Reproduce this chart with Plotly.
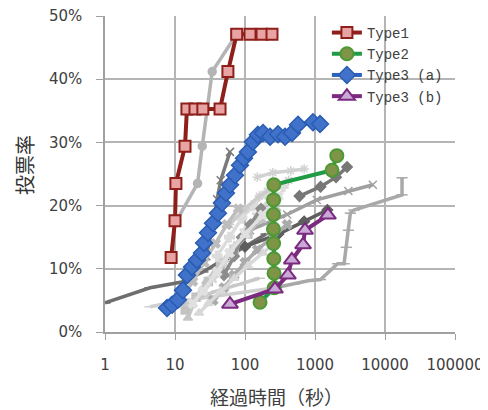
import plotly.graph_objects as go

# ---- highlighted series (x = elapsed seconds, y = turnout %) ----
type1_x = [8.8, 10.0, 10.3, 13.9, 14.8, 19.3, 25.0, 44.0, 57.0, 76.0, 118.0, 175.0, 243.0]
type1_y = [11.8, 17.6, 23.5, 29.4, 35.3, 35.3, 35.3, 35.3, 41.2, 47.1, 47.1, 47.1, 47.1]

type2_x = [164, 262, 260, 258, 256, 255, 255, 256, 258, 1750, 2050]
type2_y = [4.7, 7.0, 9.3, 11.6, 14.0, 16.3, 18.6, 20.9, 23.3, 25.6, 27.9]

type3a_x = [7.7, 9.1, 11.0, 13.0, 14.8, 17.5, 20.6, 24.3, 26.0, 29.6, 34.9, 41.1, 46.9,
            53.5, 61.1, 72.0, 84.8, 96.8, 110, 130, 153, 181, 228, 296, 373, 469, 572,
            936, 1179]
type3a_y = [3.8, 4.3, 5.1, 6.6, 9.0, 10.3, 11.4, 12.5, 14.1, 15.7, 17.2, 18.8, 20.4,
            22.0, 23.3, 24.8, 26.4, 27.5, 28.5, 30.1, 31.2, 31.5, 30.9, 31.3, 30.9, 31.5,
            32.8, 33.2, 32.9]

type3b_x = [61, 268, 410, 467, 675, 720, 1530]
type3b_y = [4.4, 6.8, 9.0, 11.4, 13.8, 16.1, 18.5]

# ---- background (grey) series ----
bg_series = [
    ([10.5, 21, 24.5, 34, 76], [17.6, 23.5, 29.4, 41.2, 47.1]),
    ([1, 4.4, 12.6, 25, 50, 100, 200], [4.6, 7.0, 7.9, 9.5, 11.5, 13.5, 15.5]),
    ([28, 35, 40, 45, 61], [12, 17, 21, 24, 28.5]),
    ([15.3, 20, 28, 45, 80, 150, 280], [2.2, 5.5, 8, 11, 14, 17, 19.5]),
    ([4.4, 10, 30, 100, 270], [4.0, 4.8, 5.5, 6.3, 7.0]),
    ([270, 500, 800, 1200, 2100, 2600, 2800, 3000, 3200, 3600, 17500, 17500],
     [7.0, 7.6, 8.1, 8.3, 10.8, 10.8, 13.4, 16.1, 18.8, 19.3, 21.7, 24.4]),
    ([118, 400, 1060, 3000, 6700], [16.1, 18.6, 20.9, 22.3, 23.3]),
    ([100, 300, 700, 1500], [13.5, 15.5, 17.5, 19.3]),
    ([600, 1200, 2000, 2870], [21.5, 23, 24.5, 26.1]),
    ([150, 250, 450, 700], [24.5, 25.2, 25.5, 25.8]),
    ([14, 20, 30, 45, 70, 110, 170, 250], [3.5, 5.5, 8, 10.5, 13, 15.5, 18, 20.5]),
    ([25, 35, 50, 70, 100, 150, 220], [6, 8.5, 11, 13.5, 16, 18.5, 21]),
    ([35, 50, 70, 100, 150, 250, 400], [5, 7, 9, 11, 13, 15, 17]),
    ([40, 60, 90, 130, 200, 350], [12, 15, 18, 20, 22, 23]),
    ([50, 70, 90, 120, 170], [9, 12, 15, 17, 19.5]),
    ([9, 14, 22, 40, 80, 160], [3.8, 4.5, 5.5, 6.5, 7.5, 8.5]),
    ([18, 25, 40, 60, 100, 180, 300], [4.5, 6.5, 9.5, 12.5, 15.5, 18.5, 21.5]),
    ([60, 100, 160, 250, 420], [17, 19.5, 21.5, 22.8, 24]),
    ([22, 30, 45, 70, 110, 180, 260], [3.0, 4.5, 6.5, 8.5, 10.5, 12.5, 14.0]),
    ([12, 18, 26, 38, 55, 80], [5.0, 8.0, 11.0, 14.0, 17.0, 19.5]),
]
bg_colors = ["#b4b4b4", "#6e6e6e", "#7a7a7a", "#c6c6c6", "#cfcfcf", "#a9a9a9",
             "#a0a0a0", "#5e5e5e", "#777777", "#d2d2d2", "#c2c2c2", "#d6d6d6",
             "#ababab", "#dcdcdc", "#8c8c8c", "#c8c8c8", "#e0e0e0", "#cccccc",
             "#d8d8d8", "#bdbdbd"]
bg_symbols = ["circle", "line-ew", "x-thin", "triangle-up", "line-ew", "line-ew",
              "x-thin", "diamond", "diamond", "asterisk", "square", "star",
              "x", "cross", "diamond", "line-ew", "x", "asterisk", "triangle-up", "x"]

x_tickvals = [1, 10, 100, 1000, 10000, 100000]
x_ticktext = ["1", "10", "100", "1000", "10000", "100000"]
y_tickvals = [0, 10, 20, 30, 40, 50]
y_ticktext = ["0%", "10%", "20%", "30%", "40%", "50%"]

fig = go.Figure()

for (xs, ys), col, sym in zip(bg_series, bg_colors, bg_symbols):
    fig.add_trace(go.Scatter(
        x=xs, y=ys, mode="lines+markers", showlegend=False, hoverinfo="skip",
        line=dict(color=col, width=3.5),
        marker=dict(symbol=sym, size=8, color=col, line=dict(color=col, width=1.5)),
    ))

fig.add_trace(go.Scatter(
    x=type1_x, y=type1_y, name="Type1", mode="lines+markers",
    line=dict(color="#8e1f1b", width=4),
    marker=dict(symbol="square", size=11, color="#e8a4a2", line=dict(color="#8e1f1b", width=2)),
))
fig.add_trace(go.Scatter(
    x=type2_x, y=type2_y, name="Type2", mode="lines+markers",
    line=dict(color="#1f9a45", width=4),
    marker=dict(symbol="circle", size=13, color="#7f9446", line=dict(color="#4c9a35", width=2)),
))
fig.add_trace(go.Scatter(
    x=type3a_x, y=type3a_y, name="Type3 (a)", mode="lines+markers",
    line=dict(color="#2c62bf", width=4),
    marker=dict(symbol="diamond", size=13, color="#3f72c8", line=dict(color="#2a5cb3", width=1.5)),
))
fig.add_trace(go.Scatter(
    x=type3b_x, y=type3b_y, name="Type3 (b)", mode="lines+markers",
    line=dict(color="#7b2a80", width=4),
    marker=dict(symbol="triangle-up", size=14, color="#c9a9d6", line=dict(color="#7b2a80", width=2)),
))

fig.update_layout(
    width=480, height=402,
    margin=dict(l=97, r=33, t=8, b=78),
    paper_bgcolor="white", plot_bgcolor="white",
    font=dict(family="DejaVu Sans", size=15, color="#404040"),
    legend=dict(x=0.634, y=0.997, xanchor="left", yanchor="top",
                bgcolor="rgba(0,0,0,0)", font=dict(family="Liberation Mono", size=14, color="#404040"),
                tracegroupgap=0, itemwidth=30),
    showlegend=True,
    annotations=[
        dict(text="経過時間（秒）", xref="paper", yref="paper", x=0.49, y=-0.203,
             xanchor="center", yanchor="middle", showarrow=False,
             font=dict(family="Noto Sans CJK JP", size=19, color="#404040")),
        dict(text="投票率", xref="paper", yref="paper", x=-0.232, y=0.528,
             xanchor="center", yanchor="middle", showarrow=False, textangle=-90,
             font=dict(family="Noto Sans CJK JP", size=20, color="#333333")),
    ],
)
fig.update_xaxes(
    type="log", range=[0, 5], tickvals=x_tickvals, ticktext=x_ticktext, automargin=False,
    showgrid=True, gridcolor="#b5b5b5", gridwidth=1.5,
    showline=True, linecolor="#a0a0a0", linewidth=1.5,
    ticks="outside", ticklen=6, tickcolor="#a0a0a0", zeroline=False,
    ticklabelstandoff=12, ticklabeloverflow="allow",
)
fig.update_yaxes(
    range=[0, 50], tickvals=y_tickvals, ticktext=y_ticktext, automargin=False,
    showgrid=True, gridcolor="#b5b5b5", gridwidth=1.5,
    showline=True, linecolor="#a0a0a0", linewidth=1.5,
    ticks="outside", ticklen=7, tickcolor="#a0a0a0", zeroline=False,
    ticklabelstandoff=11, ticklabeloverflow="allow",
)

fig.write_html("out.html")
